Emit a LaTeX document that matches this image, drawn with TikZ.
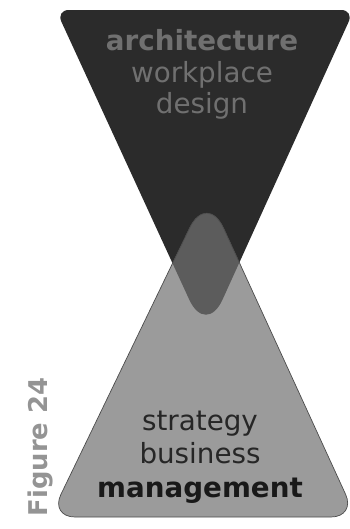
\documentclass[tikz,border=0pt]{standalone}
\usepackage{fontspec}
\setmainfont{DejaVu Sans}
\usepackage{tikz}
\usetikzlibrary{positioning}
\usepackage{xcolor}

\definecolor{darktri}{HTML}{2B2B2B}
\definecolor{lighttri}{HTML}{9B9B9B}
\definecolor{midtri}{HTML}{5C5C5C}
\definecolor{toptxt}{HTML}{707070}
\definecolor{bottxt}{HTML}{262626}
\definecolor{figtxt}{HTML}{949494}

\begin{document}
\begin{tikzpicture}[
    x=0.02cm, y=-0.02cm,
    every node/.style={inner sep=0pt},
    toplabel/.style={anchor=base, text=toptxt, font=\fontsize{15.8pt}{18pt}\selectfont},
    botlabel/.style={anchor=base, text=bottxt, font=\fontsize{15.8pt}{18pt}\selectfont},
    figlabel/.style={rotate=90, text=figtxt, font=\fontsize{14.7pt}{18pt}\selectfont\bfseries}
  ]

  \useasboundingbox (0,0) rectangle (350,529);

  % the two triangles
  \def\toptri{(205,10) [rounded corners=0.26cm] -- (354,10) [rounded corners=0.8cm] -- (206,336) [rounded corners=0.26cm] -- (56,10) -- cycle}
  \def\bottri{(204,517) [rounded corners=0.5cm] -- (50,517) [rounded corners=0.8cm] -- (207,192) [rounded corners=0.5cm] -- (356,517) -- cycle}

  \fill[darktri] \toptri;
  \fill[lighttri] \bottri;
  \begin{scope}
    \clip \toptri;
    \fill[midtri] \bottri;
  \end{scope}
  \draw[black!70, line width=0.4pt] \bottri;

  % upper labels
  \node[toplabel, font=\fontsize{15.8pt}{18pt}\selectfont\bfseries] (arch) at (202,50) {architecture};
  \node[toplabel] (work) at (202,82) {workplace};
  \node[toplabel] (design) at (202,113) {design};

  % lower labels
  \node[botlabel] (strat) at (200,430) {strategy};
  \node[botlabel] (bus) at (200,463) {business};
  \node[botlabel, text=black!90, font=\fontsize{15.8pt}{18pt}\selectfont\bfseries] (mgmt) at (200,497) {management};

  \node[figlabel] (fig) at (40,447) {Figure 24};

\end{tikzpicture}
\end{document}
